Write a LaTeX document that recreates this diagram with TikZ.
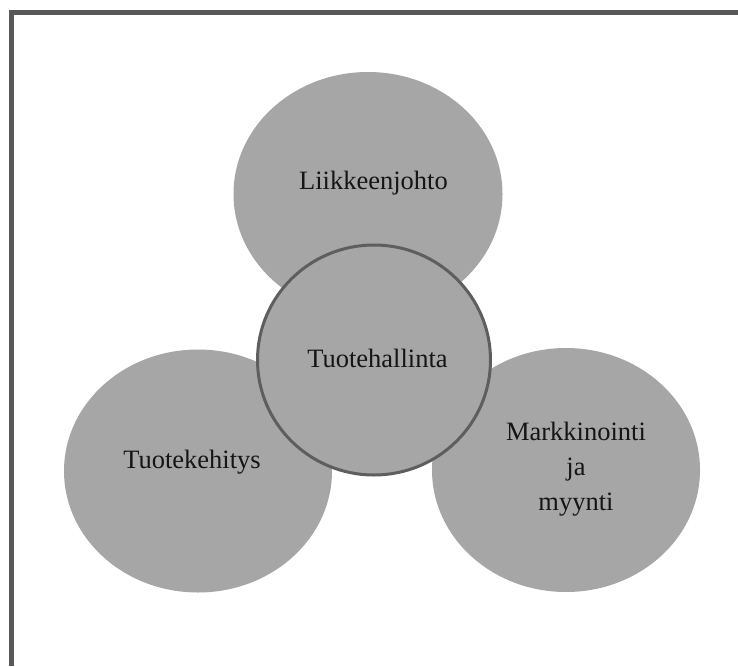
\documentclass[tikz,border=0pt]{standalone}
\usepackage{fontspec}
\setmainfont{Liberation Serif}
\usetikzlibrary{shapes.geometric}
\definecolor{blobfill}{HTML}{A6A6A6}
\definecolor{rimcol}{HTML}{5E5E5E}
\definecolor{framecol}{HTML}{585858}
\definecolor{txtcol}{HTML}{151515}
\tikzset{
  blob/.style={ellipse, fill=blobfill, draw=none, inner sep=0pt},
  hub/.style={ellipse, fill=blobfill, draw=rimcol, line width=3pt, inner sep=0pt},
  lbl/.style={text=txtcol, font=\fontsize{26.5}{35}\selectfont, inner sep=0pt, align=center},
}
\begin{document}
\begin{tikzpicture}[x=1pt,y=-1pt]
\useasboundingbox (0,0) rectangle (738,666);
\fill[white] (0,0) rectangle (738,666);
% frame (left and top edges)
\draw[framecol, line width=5pt] (11,666) -- (11,13) -- (738,13);
% outer ellipses
\node[blob, minimum width=269pt, minimum height=244pt] (top) at (368,194) {};
\node[blob, minimum width=268pt, minimum height=243pt] (left) at (198,471) {};
\node[blob, minimum width=268pt, minimum height=244pt] (right) at (566,470) {};
% center
\node[hub, minimum width=233pt, minimum height=230pt] (hub) at (374,360) {};
% labels
\node[lbl, anchor=base] (ltop) at (373.5,189) {Liikkeenjohto};
\node[lbl, anchor=base] (lleft) at (192,468) {Tuotekehitys};
\node[lbl, anchor=base] (lhub) at (377.5,367) {Tuotehallinta};
\node[lbl] (lright) at (576,469) {Markkinointi\\ja\\myynti};
\end{tikzpicture}
\end{document}
